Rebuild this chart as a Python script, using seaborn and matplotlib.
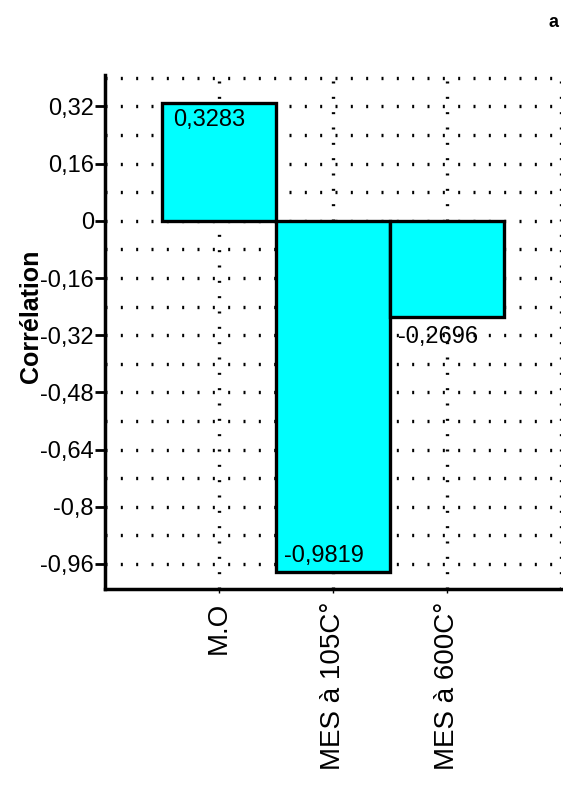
import matplotlib
matplotlib.use("Agg")
import matplotlib.pyplot as plt
import seaborn as sns
import pandas as pd

# Correlation of each parameter
categories = ["M.O", "MES à 105C°", "MES à 600C°"]
correlations = [0.3283, -0.9819, -0.2696]
ytick_values = [0.32, 0.16, 0.0, -0.16, -0.32, -0.48, -0.64, -0.8, -0.96]
ytick_labels = ["0,32", "0,16", "0", "-0,16", "-0,32", "-0,48", "-0,64", "-0,8", "-0,96"]
grid_values = [0.40, 0.32, 0.24, 0.16, 0.08, 0.0, -0.08, -0.16, -0.24, -0.32,
               -0.40, -0.48, -0.56, -0.64, -0.72, -0.8, -0.88, -0.96]

sns.set_style("white")
plt.rcParams["font.family"] = ["Liberation Sans", "DejaVu Sans"]
plt.rcParams["text.color"] = "black"
plt.rcParams["xtick.color"] = "black"
plt.rcParams["ytick.color"] = "black"
plt.rcParams["axes.labelcolor"] = "black"

df = pd.DataFrame({"param": categories, "corr": correlations})

fig = plt.figure(figsize=(5.63, 7.98), dpi=100)
ax = fig.add_axes([0.1865, 0.262, 0.81, 0.644])

dot = (0, (0.6, 4.0))
for g in grid_values:
    ax.axhline(g, color="black", lw=2.4, ls=dot, zorder=0.5)
for i in range(len(categories)):
    ax.axvline(i, color="black", lw=2.4, ls=dot, zorder=0.5)
ax.axvline(3, color="black", lw=2.4, ls=dot, zorder=0.5)

sns.barplot(data=df, x="param", y="corr", color="#00FFFF", saturation=1,
            width=1.0, edgecolor="black", linewidth=2.4, ax=ax, zorder=2)

ax.set_xlim(-1, 3)
ax.set_ylim(-1.03, 0.408)

ax.set_yticks(ytick_values)
ax.set_yticklabels(ytick_labels, fontsize=17)
ax.set_xticks(range(len(categories)))
ax.set_xticklabels(categories, rotation=90, fontsize=20)
ax.tick_params(axis="y", direction="out", length=7, width=2, color="black", pad=1, left=True)
ax.tick_params(axis="x", direction="out", length=3, width=1, color="black", pad=6, bottom=True)

for s in ["top", "right"]:
    ax.spines[s].set_visible(False)
for s in ["left", "bottom"]:
    ax.spines[s].set_color("black")
    ax.spines[s].set_linewidth(2.5)

ax.set_xlabel("")
ax.set_ylabel("Corrélation", fontsize=18, fontweight="bold")
ax.yaxis.set_label_coords(-0.135, 0.53)

# Value labels next to each bar
label_pos = [(0.10, 0.3283 - 0.015), (0.07, -0.9819 + 0.075), (0.07, -0.2696 - 0.025)]
for i, v in enumerate(correlations):
    txt = f"{v:.4f}".replace(".", ",")
    dx, y = label_pos[i]
    ax.text(i - 0.5 + dx, y, txt, fontsize=17, ha="left", va="top", zorder=3)

fig.text(0.992, 0.972, "a", fontsize=13, fontweight="bold", ha="right", va="center")

fig.savefig("out.png", dpi=100)
